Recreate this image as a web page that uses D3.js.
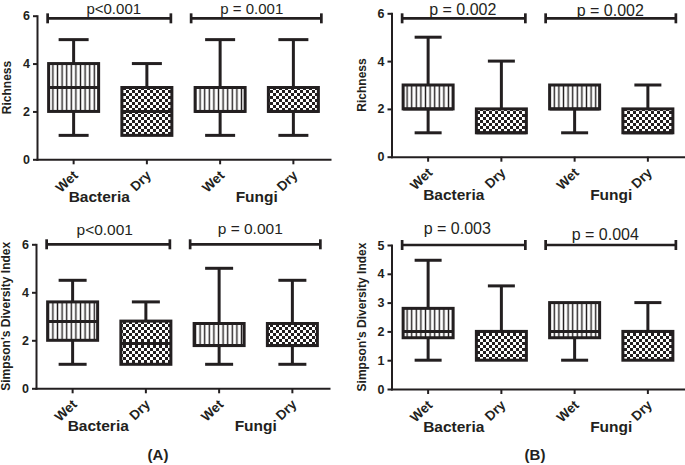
<!DOCTYPE html>
<html>
<head>
<meta charset="utf-8">
<script src="https://cdn.jsdelivr.net/npm/d3@7"></script>
<style>
  html, body { margin: 0; padding: 0; background: #fff; }
  svg { display: block; font-family: "Liberation Sans", Arial, Helvetica, sans-serif; }
</style>
</head>
<body>
<svg id="chart" width="685" height="465"></svg>
<script>
// ---------- DATA ----------
const categories = ["Wet", "Dry", "Wet", "Dry"];
const groups = ["Bacteria", "Fungi"];
const yTitles = ["Richness", "Simpson's Diversity Index"];
const panelLabels = ["(A)", "(B)"];
const ticksSix = [0, 2, 4, 6];
const ticksFive = [0, 1, 2, 3, 4, 5];

// box stats per category: [min, q1, median, q3, max]
const richnessA = [[1, 2, 3, 4, 5], [1, 1, 2, 3, 4], [1, 2, 2, 3, 5], [1, 2, 2, 3, 5]];
const simpsonA  = [[1, 2, 2.78, 3.6, 4.5], [1, 1, 1.87, 2.8, 3.6], [1, 1.78, 1.78, 2.7, 5], [1, 1.78, 1.78, 2.7, 4.5]];
const richnessB = [[1, 2, 2, 3, 5], [1, 1, 1, 2, 4], [1, 2, 2, 3, 3], [1, 1, 1, 2, 3]];
const simpsonB  = [[1, 1.78, 2, 2.8, 4.47], [1, 1, 2, 2, 3.58], [1, 1.78, 2, 3, 3], [1, 1, 2, 2, 3]];

const pRichnessA = ["p<0.001", "p = 0.001"];
const pSimpsonA  = ["p<0.001", "p = 0.001"];
const pRichnessB = ["p = 0.002", "p = 0.002"];
const pSimpsonB  = ["p = 0.003", "p = 0.004"];
const sigLevels = [5.89, 6, 5.79, 5]; // y value of the significance bars per panel

// ---------- DRAWING ----------
const ink = "#231f20";
const svg = d3.select("#chart");
const defs = svg.append("defs");

const stripe = defs.append("pattern").attr("id", "vstripe")
  .attr("patternUnits", "userSpaceOnUse").attr("width", 4.6).attr("height", 4);
stripe.append("rect").attr("width", 4.6).attr("height", 4).attr("fill", "#fff");
stripe.append("rect").attr("x", 1.6).attr("width", 1.4).attr("height", 4).attr("fill", ink);

const checker = defs.append("pattern").attr("id", "checker")
  .attr("patternUnits", "userSpaceOnUse").attr("width", 6).attr("height", 6);
checker.append("rect").attr("width", 6).attr("height", 6).attr("fill", "#fff");
checker.append("rect").attr("width", 3).attr("height", 3).attr("fill", ink);
checker.append("rect").attr("x", 3).attr("y", 3).attr("width", 3).attr("height", 3).attr("fill", ink);

const panels = [
  { data: richnessA, p: pRichnessA, sig: sigLevels[0], title: yTitles[0], ticks: ticksSix, max: 6,
    x0: 37, yTop: 15.7, yBot: 159.3, pdx: [4.5, -4.5], pdy: [4.3, 4.3], pfs: 15, capW: 30 },
  { data: simpsonA, p: pSimpsonA, sig: sigLevels[1], title: yTitles[1], ticks: ticksSix, max: 6,
    x0: 36, yTop: 244.3, yBot: 388.3, pdx: [-3.5, -5], pdy: [9.5, 10], pfs: 15.5, capW: 28 },
  { data: richnessB, p: pRichnessB, sig: sigLevels[2], title: yTitles[0], ticks: ticksSix, max: 6,
    x0: 391.5, yTop: 13.3, yBot: 156.7, pdx: [-1, -0.5], pdy: [3.5, 2], pfs: 16, capW: 27 },
  { data: simpsonB, p: pSimpsonB, sig: sigLevels[3], title: yTitles[1], ticks: ticksFive, max: 5,
    x0: 391.5, yTop: 245, yBot: 389, pdx: [-6.5, -5.5], pdy: [11, 5], pfs: 16, capW: 27 }
];

function drawPanel(cfg) {
  const g = svg.append("g");
  const x = d3.scaleBand().domain(d3.range(categories.length)).range([cfg.x0, cfg.x0 + 293]);
  const y = d3.scaleLinear().domain([0, cfg.max]).range([cfg.yBot, cfg.yTop]);
  const cx = i => x(i) + x.bandwidth() / 2;
  const boxW = 50;

  // axes
  const xa = g.append("g").attr("transform", `translate(0,${cfg.yBot})`)
    .call(d3.axisBottom(x).tickSize(5).tickSizeOuter(0).tickFormat(i => categories[i]));
  const ya = g.append("g").attr("transform", `translate(${cfg.x0},0)`)
    .call(d3.axisLeft(y).tickValues(cfg.ticks).tickSize(4).tickPadding(3).tickSizeOuter(0).tickFormat(d3.format("d")));
  [xa, ya].forEach(a => {
    a.select(".domain").attr("stroke", ink).attr("stroke-width", 2).attr("stroke-linecap", "square");
    a.selectAll(".tick line").attr("stroke", ink).attr("stroke-width", 2);
    a.selectAll("text").attr("fill", ink).attr("font-weight", "bold")
      .attr("font-family", "Liberation Sans, Arial, sans-serif");
  });
  ya.selectAll("text").attr("font-size", 12.5);
  xa.selectAll("text").attr("font-size", 13.5)
    .attr("x", 0).attr("y", 0).attr("dy", 0)
    .attr("text-anchor", "end")
    .attr("transform", "translate(5,17) rotate(-44)");

  // y title
  g.append("text")
    .attr("transform", `translate(${cfg.x0 - 26},${(cfg.yTop + cfg.yBot) / 2}) rotate(-90)`)
    .attr("text-anchor", "middle").attr("font-size", 12).attr("font-weight", "bold")
    .attr("fill", ink).text(cfg.title);

  // group labels
  g.append("text").attr("x", (cx(0) + cx(1)) / 2 - 11).attr("y", cfg.yBot + 43)
    .attr("text-anchor", "middle").attr("font-size", 15.5).attr("font-weight", "bold")
    .attr("fill", ink).text(groups[0]);
  g.append("text").attr("x", (cx(2) + cx(3)) / 2).attr("y", cfg.yBot + 43)
    .attr("text-anchor", "middle").attr("font-size", 15.5).attr("font-weight", "bold")
    .attr("fill", ink).text(groups[1]);

  // boxes
  cfg.data.forEach((d, i) => {
    const [mn, q1, md, q3, mx] = d;
    const c = cx(i);
    const bg = g.append("g").attr("stroke", ink).attr("stroke-width", 3);
    if (mx > q3) {
      bg.append("line").attr("x1", c).attr("x2", c).attr("y1", y(q3)).attr("y2", y(mx));
      bg.append("line").attr("x1", c - cfg.capW / 2).attr("x2", c + cfg.capW / 2).attr("y1", y(mx)).attr("y2", y(mx));
    }
    if (mn < q1) {
      bg.append("line").attr("x1", c).attr("x2", c).attr("y1", y(q1)).attr("y2", y(mn));
      bg.append("line").attr("x1", c - cfg.capW / 2).attr("x2", c + cfg.capW / 2).attr("y1", y(mn)).attr("y2", y(mn));
    }
    bg.append("rect").attr("x", c - boxW / 2).attr("y", y(q3))
      .attr("width", boxW).attr("height", y(q1) - y(q3))
      .attr("fill", i % 2 === 0 ? "url(#vstripe)" : "url(#checker)");
    bg.append("line").attr("x1", c - boxW / 2).attr("x2", c + boxW / 2).attr("y1", y(md)).attr("y2", y(md));
  });

  // significance bars
  const spans = [[cx(0) - 26, cx(1) + 24], [cx(2) - 29, cx(3) + 28]];
  const sy = y(cfg.sig);
  spans.forEach((s, k) => {
    const sg = g.append("g").attr("stroke", ink).attr("stroke-width", 2.7);
    sg.append("line").attr("x1", s[0]).attr("x2", s[1]).attr("y1", sy).attr("y2", sy);
    sg.append("line").attr("x1", s[0]).attr("x2", s[0]).attr("y1", sy - 5).attr("y2", sy + 5);
    sg.append("line").attr("x1", s[1]).attr("x2", s[1]).attr("y1", sy - 5).attr("y2", sy + 5);
    g.append("text").attr("x", (s[0] + s[1]) / 2 + cfg.pdx[k]).attr("y", sy - cfg.pdy[k])
      .attr("text-anchor", "middle").attr("font-size", cfg.pfs).attr("fill", ink)
      .text(cfg.p[k]);
  });
}

panels.forEach(drawPanel);

// panel letters
svg.append("text").attr("x", 158).attr("y", 460).attr("text-anchor", "middle")
  .attr("font-size", 15).attr("font-weight", "bold").attr("fill", ink).text(panelLabels[0]);
svg.append("text").attr("x", 535).attr("y", 460).attr("text-anchor", "middle")
  .attr("font-size", 15).attr("font-weight", "bold").attr("fill", ink).text(panelLabels[1]);
</script>
</body>
</html>
